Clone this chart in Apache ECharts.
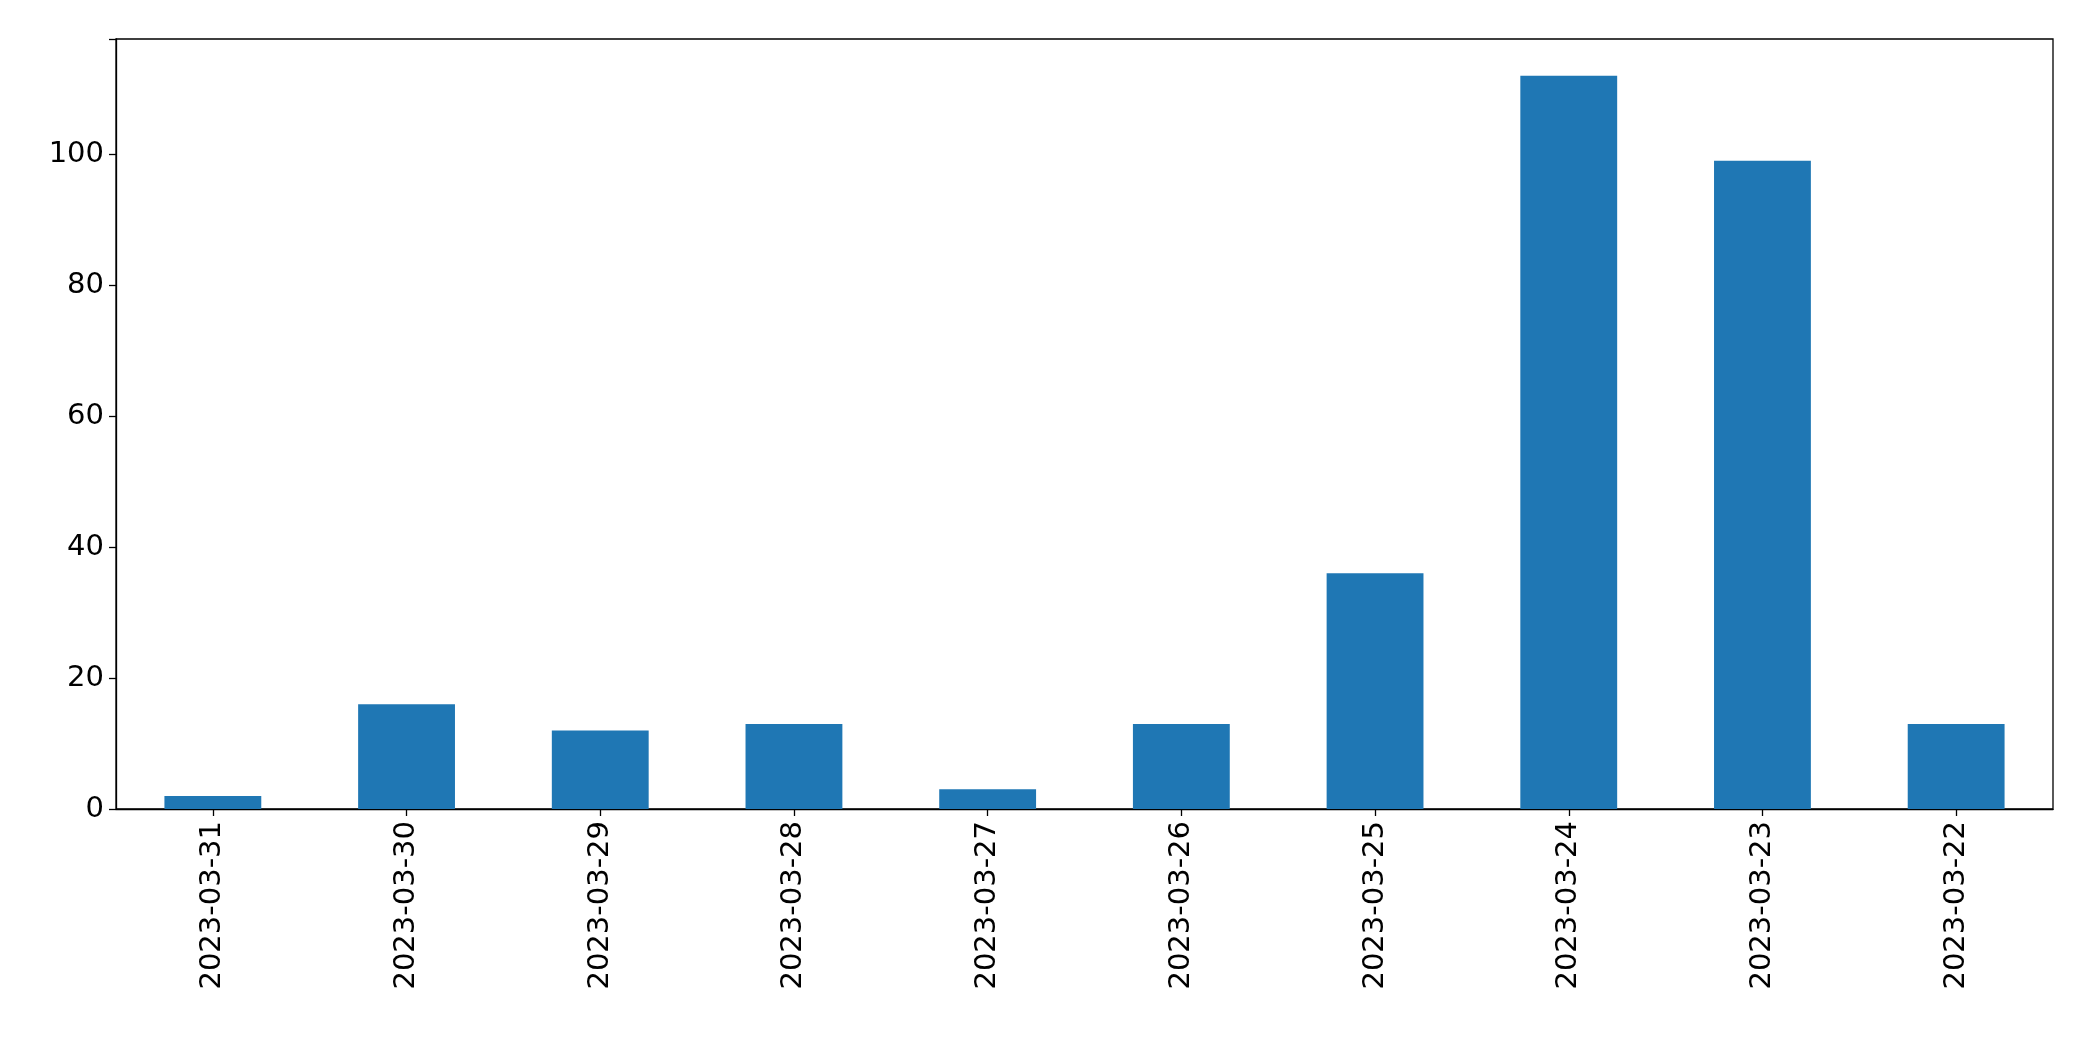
<!DOCTYPE html><html><head><meta charset="utf-8">
<script src="https://cdn.jsdelivr.net/npm/echarts@6/dist/echarts.min.js"></script>
<style>html,body{margin:0;padding:0;background:#fff}#c{width:2093px;height:1061px}</style></head>
<body><div id="c"></div><script>
const categories=["2023-03-31","2023-03-30","2023-03-29","2023-03-28","2023-03-27","2023-03-26","2023-03-25","2023-03-24","2023-03-23","2023-03-22"];
const values=[2,16,12,13,3,13,36,112,99,13];
const yTicks=[0,20,40,60,80,100];
const ch=echarts.init(document.getElementById('c'));
const font='DejaVu Sans';
ch.setOption({
 animation:false,
 grid:{left:116,right:40,top:39,bottom:252,show:true,borderColor:'#000',borderWidth:1.3,backgroundColor:'transparent'},
 xAxis:{type:'category',data:categories,
  axisLine:{show:true,onZero:false,lineStyle:{color:'#000',width:1.3}},
  axisTick:{show:true,alignWithLabel:true,length:7,lineStyle:{color:'#000',width:1.3}},
  axisLabel:{rotate:90,color:'#000',fontSize:29,fontFamily:font,margin:12,interval:0}},
 yAxis:{type:'value',min:0,max:117.6,interval:20,
  axisLine:{show:true,lineStyle:{color:'#000',width:1.3}},
  axisTick:{show:true,length:7,lineStyle:{color:'#000',width:1.3}},
  splitLine:{show:false},
  axisLabel:{color:'#000',fontSize:29,fontFamily:font,margin:12,
   formatter:v=>yTicks.includes(v)?String(v):''}},
 series:[{type:'bar',data:values,barWidth:'50%',itemStyle:{color:'#1f77b4'}}]
});
</script></body></html>
